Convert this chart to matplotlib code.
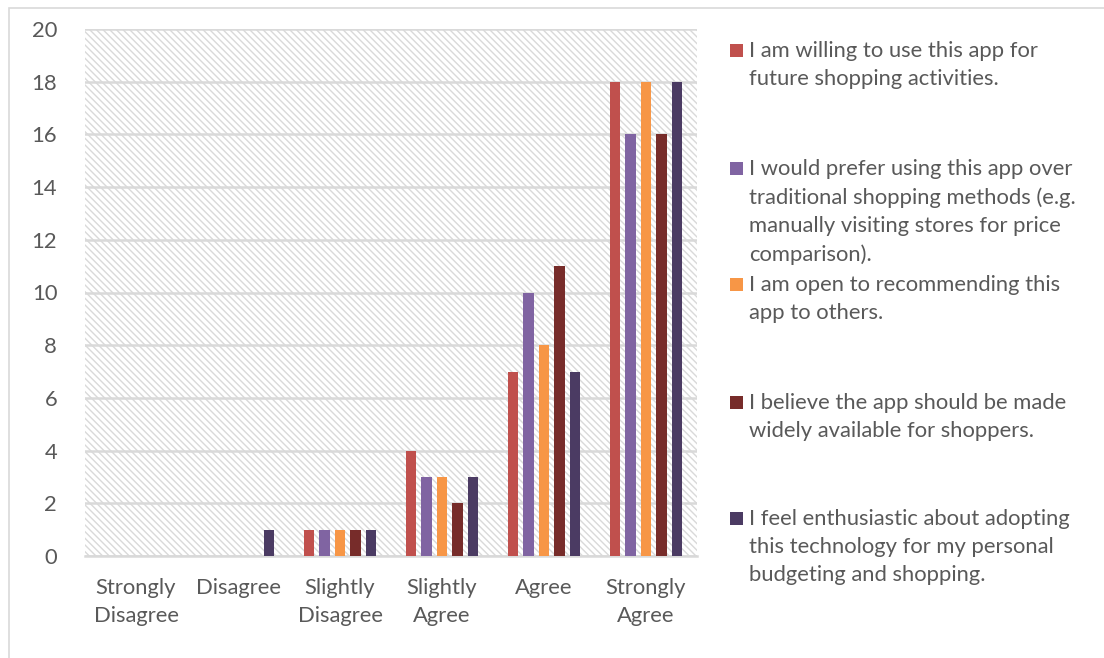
import numpy as np
import matplotlib.pyplot as plt
from matplotlib.patches import Rectangle

plt.rcParams['font.family'] = ['Lato', 'DejaVu Sans']
plt.rcParams['hatch.color'] = '#D9D9D9'
plt.rcParams['hatch.linewidth'] = 1.0

# survey answers
categories = ['Strongly\nDisagree', 'Disagree', 'Slightly\nDisagree',
              'Slightly\nAgree', 'Agree', 'Strongly\nAgree']
series_labels = [
    'I am willing to use this app for\nfuture shopping activities.',
    'I would prefer using this app over\ntraditional shopping methods (e.g.\nmanually visiting stores for price\ncomparison).',
    'I am open to recommending this\napp to others.',
    'I believe the app should be made\nwidely available for shoppers.',
    'I feel enthusiastic about adopting\nthis technology for my personal\nbudgeting and shopping.',
]
willing = [0, 0, 1, 4, 7, 18]
prefer = [0, 0, 1, 3, 10, 16]
recommend = [0, 0, 1, 3, 8, 18]
available = [0, 0, 1, 2, 11, 16]
enthusiastic = [0, 1, 1, 3, 7, 18]
values = [willing, prefer, recommend, available, enthusiastic]
colors = ['#C0504D', '#8064A2', '#F79646', '#772C2A', '#4B3B63']

fig = plt.figure(figsize=(11.04, 6.58), dpi=100)
# outer frame, only top and left edges fall inside the image
fig.patches.append(Rectangle((9 / 1104, -0.1), 1.2, 1.1 - 8 / 658, transform=fig.transFigure,
                             fill=False, edgecolor='#D9D9D9', linewidth=1.2))
ax = fig.add_axes([85 / 1104, 1 - 556 / 658, 612 / 1104, 527 / 658])

# hatched plot area
ax.add_patch(Rectangle((0, 0), 1, 1, transform=ax.transAxes, facecolor='white',
                       hatch='\\\\\\\\\\', edgecolor='#D9D9D9', linewidth=0, zorder=0))

x = np.arange(len(categories))
width = 0.103
step = 0.152
for i, (vals, c) in enumerate(zip(values, colors)):
    ax.bar(x + (i - 2) * step, vals, width, color=c, zorder=3)

ax.set_xlim(-0.5, len(categories) - 0.5)
ax.set_ylim(0, 20)
ax.set_yticks(range(0, 21, 2))
ax.yaxis.grid(True, color='#D9D9D9', linewidth=1.8, zorder=1)
ax.set_axisbelow(True)
for s in ['top', 'left', 'right']:
    ax.spines[s].set_visible(False)
ax.spines['bottom'].set_color('#D9D9D9')
ax.spines['bottom'].set_linewidth(1.8)
ax.set_xticks(x)
ax.set_xticklabels(categories, linespacing=1.5)
ax.tick_params(axis='both', length=0, labelsize=15.8, colors='#595959')
ax.tick_params(axis='x', pad=16)
ax.tick_params(axis='y', pad=20)

# legend drawn on the right
legend_top = [50, 168, 284, 402, 518]
for lab, c, yt in zip(series_labels, colors, legend_top):
    fig.patches.append(Rectangle((730 / 1104, 1 - (yt + 7) / 658), 13 / 1104, 13 / 658,
                                 transform=fig.transFigure, facecolor=c, edgecolor='none'))
    fig.text(749 / 1104, 1 - (yt - 9) / 658, lab, fontsize=15.8, color='#595959',
             va='top', ha='left', linespacing=1.5)

fig.savefig('out.png', dpi=100)
